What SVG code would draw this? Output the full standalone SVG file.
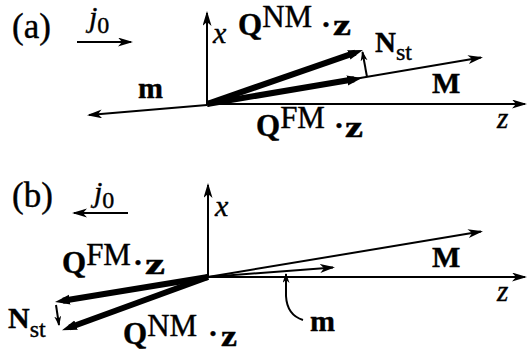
<svg xmlns="http://www.w3.org/2000/svg" width="528" height="353" viewBox="0 0 528 353">
<defs>
<style>
.t{font-family:"Liberation Serif","Times New Roman",serif;fill:#000;stroke:#000;stroke-width:0.4}
.b{font-weight:bold}
.i{font-style:italic}
.ln{stroke:#000;stroke-width:2;fill:none}
.thk{stroke:#000;stroke-width:6;fill:none}
</style>
<marker id="ah" markerUnits="userSpaceOnUse" markerWidth="16" markerHeight="10" refX="13" refY="4.5" orient="auto"><path d="M0,0 L15,4.5 L0,9 L4,4.5z" fill="#000"/></marker>
<marker id="ahs" markerUnits="userSpaceOnUse" markerWidth="12" markerHeight="8" refX="9" refY="3.5" orient="auto"><path d="M0,0 L10,3.5 L0,7 L3,3.5z" fill="#000"/></marker>
<marker id="aht" markerUnits="userSpaceOnUse" markerWidth="16" markerHeight="12" refX="7" refY="5" orient="auto"><path d="M0,0 L15,5 L0,10z" fill="#000"/></marker>
</defs>
<rect width="528" height="353" fill="#fff"/>
<g id="connectors">
<line class="ln" x1="207" y1="105" x2="207" y2="13" marker-end="url(#ah)"/>
<line class="ln" x1="206" y1="104" x2="525" y2="104" marker-end="url(#ah)"/>
<line class="ln" x1="207" y1="105" x2="89" y2="115" marker-end="url(#ah)"/>
<line class="ln" x1="207" y1="104" x2="481" y2="57.5" marker-end="url(#ah)"/>
<line class="thk" x1="207" y1="104" x2="355.4" y2="52.6" marker-end="url(#aht)"/>
<line class="thk" x1="207" y1="104" x2="354.1" y2="79.3" marker-end="url(#aht)"/>
<line class="ln" x1="367" y1="77" x2="362.5" y2="52" marker-end="url(#ahs)"/>
<line class="ln" x1="77" y1="42" x2="131" y2="42" marker-end="url(#ah)"/>

<line class="ln" x1="208" y1="277" x2="208" y2="185" marker-end="url(#ah)"/>
<line class="ln" x1="207" y1="277" x2="525" y2="277" marker-end="url(#ah)"/>
<line class="ln" x1="208" y1="277" x2="481" y2="231.5" marker-end="url(#ah)"/>
<line class="ln" x1="208" y1="277" x2="333" y2="267.5" marker-end="url(#ah)"/>
<line class="thk" x1="208" y1="277" x2="62.9" y2="300.8" marker-end="url(#aht)"/>
<line class="thk" x1="208" y1="277" x2="69.5" y2="327.5" marker-end="url(#aht)"/>
<line class="ln" x1="56" y1="305" x2="59" y2="325" marker-end="url(#ahs)"/>
<line class="ln" x1="128" y1="213" x2="74" y2="213" marker-end="url(#ah)"/>
<path class="ln" d="M286,296 Q287,315 303,320"/>
<line class="ln" x1="286" y1="296" x2="286" y2="274" marker-end="url(#ahs)" stroke-width="1.5"/>
</g>
<g id="panel-a-labels">
<text class="t" x="12" y="38" font-size="35">(a)</text>
<text class="t i" x="89" y="27" font-size="30">j<tspan font-style="normal" font-size="24" dy="6">0</tspan></text>
<text class="t i" x="213" y="43" font-size="30">x</text>
<text class="t" x="238" y="35" font-size="31"><tspan class="b">Q</tspan><tspan font-size="31" dy="-8">NM</tspan></text>
<text class="t b" x="321" y="34" font-size="30">·</text>
<text class="t b" x="333" y="35" font-size="29" textLength="18" lengthAdjust="spacingAndGlyphs">z</text>
<text class="t" x="256" y="136" font-size="31"><tspan class="b">Q</tspan><tspan font-size="31" dy="-8">FM</tspan></text>
<text class="t b" x="334" y="135" font-size="30">·</text>
<text class="t b" x="345" y="137" font-size="29" textLength="18" lengthAdjust="spacingAndGlyphs">z</text>
<text class="t b" x="375" y="52" font-size="29">N<tspan font-weight="normal" font-size="24" dy="8">st</tspan></text>
<text class="t b" x="432" y="93" font-size="30">M</text>
<text class="t i" x="497" y="128" font-size="29">z</text>
<text class="t b" x="138" y="98" font-size="30">m</text>
</g>
<g id="panel-b-labels">
<text class="t" x="12" y="207" font-size="35">(b)</text>
<text class="t i" x="94" y="202" font-size="30">j<tspan font-style="normal" font-size="24" dy="6">0</tspan></text>
<text class="t i" x="215" y="216" font-size="30">x</text>
<text class="t" x="62" y="273" font-size="31"><tspan class="b">Q</tspan><tspan font-size="31" dy="-8">FM</tspan></text>
<text class="t b" x="133" y="272" font-size="30">·</text>
<text class="t b" x="145" y="274" font-size="29" textLength="20" lengthAdjust="spacingAndGlyphs">z</text>
<text class="t b" x="8" y="328" font-size="30">N<tspan font-weight="normal" font-size="24" dy="9">st</tspan></text>
<text class="t" x="123" y="344" font-size="31"><tspan class="b">Q</tspan><tspan font-size="31" dy="-8">NM</tspan></text>
<text class="t b" x="208" y="343" font-size="30">·</text>
<text class="t b" x="221" y="346" font-size="29" textLength="16" lengthAdjust="spacingAndGlyphs">z</text>
<text class="t b" x="432" y="267" font-size="30">M</text>
<text class="t i" x="497" y="301" font-size="29">z</text>
<text class="t b" x="310" y="331" font-size="30">m</text>
</g>
</svg>
